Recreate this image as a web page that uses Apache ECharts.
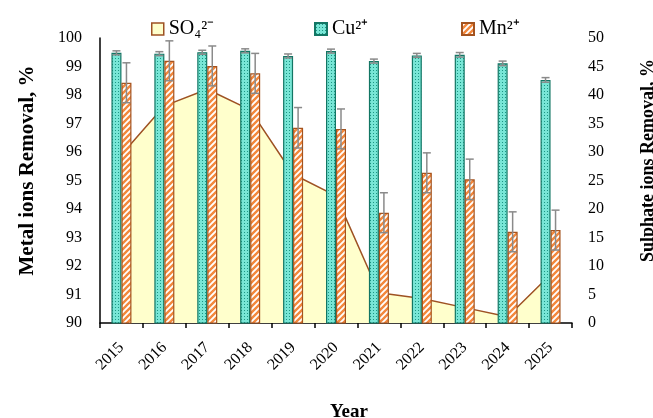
<!DOCTYPE html>
<html>
<head>
<meta charset="utf-8">
<script src="https://cdn.jsdelivr.net/npm/echarts@6/dist/echarts.min.js"></script>
<style>
  html, body { margin: 0; padding: 0; background: #fff; }
  #chart { width: 653px; height: 418px; }
</style>
</head>
<body>
<div id="chart"></div>
<script>
// Years on the category axis
const years = ['2015', '2016', '2017', '2018', '2019', '2020', '2021', '2022', '2023', '2024', '2025'];

// Metal ion removal (%), left axis
const cuRemoval = [99.48, 99.45, 99.50, 99.55, 99.37, 99.54, 99.19, 99.39, 99.41, 99.11, 98.53];
const cuError   = [0.07, 0.07, 0.07, 0.07, 0.07, 0.07, 0.07, 0.07, 0.08, 0.08, 0.08];
const mnRemoval = [98.43, 99.20, 99.02, 98.76, 96.85, 96.81, 93.87, 95.27, 95.04, 93.20, 93.26];
const mnError   = [0.70, 0.70, 0.70, 0.70, 0.71, 0.70, 0.70, 0.70, 0.71, 0.70, 0.70];

// Sulphate removal (%), right axis
const so4Removal = [29.5, 38.1, 41.0, 37.4, 26.1, 22.3, 5.3, 4.3, 2.7, 1.1, 8.5];

// Left/right axis ticks
const leftTicks = { min: 90, max: 100, interval: 1 };
const rightTicks = { min: 0, max: 50, interval: 5 };

const SERIF = '"Liberation Serif", "Times New Roman", serif';

// Fill textures: dotted teal for Cu, diagonal orange hatching for Mn
function dottedPattern() {
  const c = document.createElement('canvas');
  c.width = 3; c.height = 3;
  const g = c.getContext('2d');
  g.fillStyle = '#78e6d6';
  g.fillRect(0, 0, 3, 3);
  g.fillStyle = '#1b9684';
  g.fillRect(1, 1, 1, 1);
  return c;
}
function hatchPattern() {
  const s = 6;
  const c = document.createElement('canvas');
  c.width = s; c.height = s;
  const g = c.getContext('2d');
  g.fillStyle = '#ffffff';
  g.fillRect(0, 0, s, s);
  g.strokeStyle = '#f3883c';
  g.lineWidth = 2.4;
  g.beginPath();
  g.moveTo(-1, s + 1); g.lineTo(s + 1, -1);
  g.moveTo(-1 - s, s + 1); g.lineTo(1, -1);
  g.moveTo(-1 + s, s + 1); g.lineTo(s + 1 + s, -1);
  g.stroke();
  return c;
}

const cuFill = { image: dottedPattern(), repeat: 'repeat' };
const mnFill = { image: hatchPattern(), repeat: 'repeat' };

// Error-bar rows: [categoryIndex, low, high]
function errorRows(values, errs) {
  return values.map((v, i) => [i, v - errs[i], v + errs[i]]);
}

function errorBarRenderer(offset) {
  return function (params, api) {
    const i = api.value(0);
    const lo = api.coord([i, api.value(1)]);
    const hi = api.coord([i, api.value(2)]);
    const x = lo[0] + offset;
    const cap = 4;
    const style = { stroke: '#8a8a8a', lineWidth: 1.5 };
    return {
      type: 'group',
      children: [
        { type: 'line', shape: { x1: x, y1: hi[1], x2: x, y2: lo[1] }, style },
        { type: 'line', shape: { x1: x - cap, y1: hi[1], x2: x + cap, y2: hi[1] }, style },
        { type: 'line', shape: { x1: x - cap, y1: lo[1], x2: x + cap, y2: lo[1] }, style }
      ]
    };
  };
}

const legendText = { fontFamily: SERIF, fontSize: 20, color: '#000' };

const chart = echarts.init(document.getElementById('chart'), null, { renderer: 'canvas' });
chart.setOption({
  animation: false,
  backgroundColor: '#ffffff',
  grid: { left: 100, right: 81, top: 38, bottom: 95, containLabel: false, outerBoundsMode: 'none' },
  legend: [
    { left: 146, top: 14, itemWidth: 12, itemHeight: 12, itemGap: 8, textStyle: legendText,
      data: [{ name: 'SO₄²⁻', icon: 'rect', itemStyle: { color: '#ffffcc', borderColor: '#9e5223', borderWidth: 1.5 } }] },
    { left: 309, top: 14, itemWidth: 12, itemHeight: 12, textStyle: legendText,
      data: [{ name: 'Cu²⁺', icon: 'rect' }] },
    { left: 456, top: 14, itemWidth: 12, itemHeight: 12, textStyle: legendText,
      data: [{ name: 'Mn²⁺', icon: 'rect' }] }
  ],
  xAxis: {
    type: 'category',
    data: years,
    boundaryGap: true,
    name: 'Year',
    nameLocation: 'middle',
    nameGap: 80,
    nameTextStyle: { fontFamily: SERIF, fontSize: 19, fontWeight: 'bold', color: '#000', padding: [0, 0, 0, 26] },
    axisLine: { lineStyle: { color: '#000', width: 1.5 } },
    axisTick: { show: true, alignWithLabel: false, length: 5, lineStyle: { color: '#000', width: 1.5 } },
    axisLabel: { rotate: 45, margin: 22, fontFamily: SERIF, fontSize: 16, color: '#000' },
    splitLine: { show: false }
  },
  yAxis: [
    {
      type: 'value',
      min: leftTicks.min, max: leftTicks.max, interval: leftTicks.interval,
      name: 'Metal ions Removal, %',
      nameLocation: 'middle',
      nameGap: 62,
      nameTextStyle: { fontFamily: SERIF, fontSize: 21, fontWeight: 'bold', color: '#000', padding: [0, 0, 0, 20] },
      axisLine: { show: true, lineStyle: { color: '#000', width: 1.5 } },
      axisTick: { show: false },
      axisLabel: { margin: 18, fontFamily: SERIF, fontSize: 16, color: '#000' },
      splitLine: { show: false }
    },
    {
      type: 'value',
      position: 'right',
      min: rightTicks.min, max: rightTicks.max, interval: rightTicks.interval,
      name: 'Sulphate ions Removal, %',
      nameLocation: 'middle',
      nameGap: 67,
      nameTextStyle: { fontFamily: SERIF, fontSize: 18, fontWeight: 'bold', color: '#000', padding: [0, 0, 0, 40] },
      axisLine: { show: false },
      axisTick: { show: false },
      axisLabel: { margin: 16, fontFamily: SERIF, fontSize: 16, color: '#000' },
      splitLine: { show: false }
    }
  ],
  series: [
    {
      name: 'SO₄²⁻',
      type: 'line',
      yAxisIndex: 1,
      data: so4Removal,
      symbol: 'none',
      z: 1,
      lineStyle: { color: '#9e5223', width: 1.5 },
      itemStyle: { color: '#ffffcc', borderColor: '#9e5223' },
      areaStyle: { color: '#ffffcc', opacity: 1 }
    },
    {
      name: 'Cu²⁺',
      type: 'bar',
      yAxisIndex: 0,
      data: cuRemoval,
      barWidth: 10,
      barGap: '0%',
      z: 3,
      itemStyle: { color: cuFill, borderColor: '#127664', borderWidth: 1.2 }
    },
    {
      name: 'Mn²⁺',
      type: 'bar',
      yAxisIndex: 0,
      data: mnRemoval,
      barWidth: 10,
      barGap: '0%',
      z: 3,
      itemStyle: { color: mnFill, borderColor: '#a4531f', borderWidth: 1.2 }
    },
    {
      name: 'Cu error',
      type: 'custom',
      yAxisIndex: 0,
      z: 5,
      renderItem: errorBarRenderer(-5),
      data: errorRows(cuRemoval, cuError),
      encode: { x: 0, y: [1, 2] },
      silent: true
    },
    {
      name: 'Mn error',
      type: 'custom',
      yAxisIndex: 0,
      z: 5,
      renderItem: errorBarRenderer(5),
      data: errorRows(mnRemoval, mnError),
      encode: { x: 0, y: [1, 2] },
      silent: true
    }
  ]
});
</script>
</body>
</html>
